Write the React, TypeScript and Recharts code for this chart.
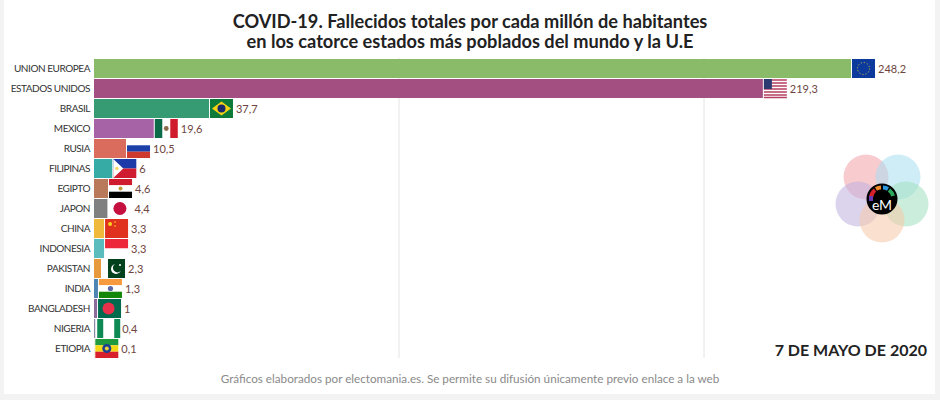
import { BarChart, Bar, XAxis, YAxis, CartesianGrid, Cell, LabelList } from 'recharts';

const countries = ['UNION EUROPEA', 'ESTADOS UNIDOS', 'BRASIL', 'MEXICO', 'RUSIA', 'FILIPINAS', 'EGIPTO', 'JAPON', 'CHINA', 'INDONESIA', 'PAKISTAN', 'INDIA', 'BANGLADESH', 'NIGERIA', 'ETIOPIA'];
const values = [248.2, 219.3, 37.7, 19.6, 10.5, 6, 4.6, 4.4, 3.3, 3.3, 2.3, 1.3, 1, 0.4, 0.1];
const barColors = ['#8abb68', '#a34f82', '#369a72', '#a663a5', '#d96c5d', '#36aaa5', '#b87a5b', '#808080', '#efb93c', '#5bbcbd', '#e79a3d', '#4f85b3', '#8b6b9b', '#8a8aa8', '#d9c9a0'];
const gridTicks = [100, 200];

const FONT = 'Lato, "Noto Sans", sans-serif';
const chartData = countries.map((name, i) => ({ name, value: values[i] }));

// every flag is drawn in a 23x19 box
const flags: Record<string, JSX.Element> = {
  'UNION EUROPEA': (
    <g>
      <rect width={23} height={19} fill="#0b3a9c" />
      <circle cx={11.5} cy={9.5} r={6} fill="none" stroke="#e8c83a" strokeWidth={1} strokeDasharray="1 2.1" />
    </g>
  ),
  'ESTADOS UNIDOS': (
    <g>
      <rect width={23} height={19} fill="#fff" />
      <path d="M0 1h23M0 4h23M0 7h23M0 10h23M0 13h23M0 16h23M0 18.5h23" stroke="#b5405f" strokeWidth={1.4} />
      <rect width={8} height={10} fill="#2b3a70" />
    </g>
  ),
  BRASIL: (
    <g>
      <rect width={23} height={19} fill="#0d7a3a" />
      <path d="M11.5 2.5L21 9.5L11.5 16.5L2 9.5Z" fill="#f5d314" />
      <circle cx={11.5} cy={9.5} r={4} fill="#1b2a6b" />
    </g>
  ),
  MEXICO: (
    <g>
      <rect width={23} height={19} fill="#fff" />
      <rect width={7.5} height={19} fill="#0b6b48" />
      <rect x={15.5} width={7.5} height={19} fill="#cf1b2b" />
      <circle cx={11.5} cy={9.5} r={2.4} fill="#8a6a4a" />
    </g>
  ),
  RUSIA: (
    <g>
      <rect width={23} height={6.3} fill="#fff" />
      <rect y={6.3} width={23} height={6.4} fill="#1c3fa8" />
      <rect y={12.7} width={23} height={6.3} fill="#cf3a2e" />
    </g>
  ),
  FILIPINAS: (
    <g>
      <rect width={23} height={9.5} fill="#1c3aa8" />
      <rect y={9.5} width={23} height={9.5} fill="#d01c30" />
      <path d="M0 0L10 9.5L0 19Z" fill="#fff" />
      <circle cx={3.5} cy={9.5} r={1.8} fill="#f5d96b" />
    </g>
  ),
  EGIPTO: (
    <g>
      <rect width={23} height={6.3} fill="#ce1b2e" />
      <rect y={6.3} width={23} height={6.4} fill="#fff" />
      <rect y={12.7} width={23} height={6.3} fill="#000" />
      <circle cx={11.5} cy={9.5} r={2} fill="#c09a3a" />
    </g>
  ),
  JAPON: (
    <g>
      <rect width={23} height={19} fill="#fff" />
      <circle cx={11.5} cy={9.5} r={6.5} fill="#c40f3f" />
    </g>
  ),
  CHINA: (
    <g>
      <rect width={23} height={19} fill="#e0301e" />
      <circle cx={5} cy={5} r={2} fill="#f7d51d" />
      <circle cx={10} cy={3} r={0.8} fill="#f7d51d" />
      <circle cx={10} cy={7} r={0.8} fill="#f7d51d" />
    </g>
  ),
  INDONESIA: (
    <g>
      <rect width={23} height={9.5} fill="#ed2939" />
      <rect y={9.5} width={23} height={9.5} fill="#fff" />
    </g>
  ),
  PAKISTAN: (
    <g>
      <rect width={23} height={19} fill="#fff" />
      <rect x={6} width={17} height={19} fill="#01411c" />
      <circle cx={14} cy={10} r={5} fill="#fff" />
      <circle cx={15.5} cy={8.8} r={4.6} fill="#01411c" />
      <circle cx={18} cy={6} r={1} fill="#fff" />
    </g>
  ),
  INDIA: (
    <g>
      <rect width={23} height={6.3} fill="#f79a3e" />
      <rect y={6.3} width={23} height={6.4} fill="#fff" />
      <rect y={12.7} width={23} height={6.3} fill="#138808" />
      <circle cx={11.5} cy={9.5} r={2.6} fill="#5a6aa8" />
    </g>
  ),
  BANGLADESH: (
    <g>
      <rect width={23} height={19} fill="#006a4e" />
      <circle cx={10.5} cy={9.5} r={6} fill="#e8304a" />
    </g>
  ),
  NIGERIA: (
    <g>
      <rect width={23} height={19} fill="#fff" />
      <rect x={1} width={6} height={19} fill="#108a55" />
      <rect x={18} width={6} height={19} fill="#108a55" />
    </g>
  ),
  ETIOPIA: (
    <g>
      <rect width={23} height={6.3} fill="#1f9a3c" />
      <rect y={6.3} width={23} height={6.4} fill="#f5d814" />
      <rect y={12.7} width={23} height={6.3} fill="#d8202c" />
      <circle cx={11.5} cy={9.5} r={4.5} fill="#1c3f94" />
      <circle cx={11.5} cy={9.5} r={2} fill="#e8d040" />
    </g>
  ),
};

function CountryTick(props: any) {
  const { x, y, payload } = props;
  return (
    <text x={x} y={y + 3.5} textAnchor="end" fontSize={10} letterSpacing={-0.45} fontFamily={FONT} fill="#333">
      {payload.value}
    </text>
  );
}

function BarEnd(props: any) {
  const { x, y, width, height, index } = props;
  const name = countries[index];
  const left = x + width + 1;
  return (
    <g>
      <g transform={`translate(${left},${y + (height - 19) / 2})`}>{flags[name]}</g>
      <text x={left + 26} y={y + height / 2 + 4} fontSize={11} fontFamily={FONT} fill="#6e4540">
        {String(values[index]).replace('.', ',')}
      </text>
    </g>
  );
}

function Logo() {
  return (
    <svg width={940} height={400} style={{ position: 'absolute', left: 0, top: 0, pointerEvents: 'none' }}>
      <circle cx={866} cy={177} r={22.5} fill="#f2a0a8" opacity={0.55} />
      <circle cx={898} cy={177} r={22.5} fill="#a8dff0" opacity={0.55} />
      <circle cx={858} cy={204} r={22.5} fill="#c0b0de" opacity={0.55} />
      <circle cx={906} cy={204} r={22.5} fill="#a0e0c0" opacity={0.55} />
      <circle cx={882} cy={220} r={22.5} fill="#f5c8a8" opacity={0.55} />
      <circle cx={882} cy={199} r={15.5} fill="#000" />
      <path d="M871 198A11 11 0 0 1 875 190" stroke="#d8202c" strokeWidth={4} fill="none" />
      <path d="M876 189A11 11 0 0 1 881 187.500" stroke="#f08a2c" strokeWidth={4} fill="none" />
      <path d="M883 187.500A11 11 0 0 1 888 189" stroke="#2c9ae0" strokeWidth={4} fill="none" />
      <path d="M889 190A11 11 0 0 1 893 196" stroke="#2ca85c" strokeWidth={4} fill="none" />
      <rect x={869} y={196} width={4} height={5} fill="#6a3ab0" />
      <text x={882} y={209.500} textAnchor="middle" fontSize={14} fontFamily={FONT} fill="#fff">eM</text>
    </svg>
  );
}

export default function App() {
  document.body.style.margin = '0';
  return (
    <div style={{ position: 'relative', width: 940, height: 400, background: '#f3f3f3', overflow: 'hidden', fontFamily: FONT }}>
      <div style={{ position: 'absolute', left: 4, top: 0, width: 931, height: 394, background: '#fff' }} />
      <div style={{ position: 'absolute', left: 0, top: 11, width: 940, textAlign: 'center', fontWeight: 700, fontSize: 18.2, lineHeight: '20px', color: '#222' }}>
        COVID-19. Fallecidos totales por cada millón de habitantes
        <br />
        en los catorce estados más poblados del mundo y la U.E
      </div>
      <div style={{ position: 'absolute', left: 0, top: 0 }}>
        <BarChart
          width={940}
          height={400}
          layout="vertical"
          data={chartData}
          margin={{ top: 58, right: 83.5, bottom: 42, left: 0 }}
          barCategoryGap={0}
        >
          <CartesianGrid horizontal={false} stroke="#e4e4e4" syncWithTicks />
          <XAxis type="number" hide domain={[0, 250]} ticks={gridTicks} />
          <YAxis
            type="category"
            dataKey="name"
            width={94}
            interval={0}
            axisLine={false}
            tickLine={false}
            tickSize={0}
            tickMargin={4}
            tick={CountryTick}
          />
          <Bar dataKey="value" barSize={19} isAnimationActive={false}>
            {chartData.map((d, i) => (
              <Cell key={d.name} fill={barColors[i]} />
            ))}
            <LabelList dataKey="value" content={BarEnd} />
          </Bar>
        </BarChart>
      </div>
      <Logo />
      <div style={{ position: 'absolute', right: 13, top: 340, fontWeight: 700, fontSize: 16, color: '#222', lineHeight: '20px' }}>
        7 DE MAYO DE 2020
      </div>
      <div style={{ position: 'absolute', left: 0, top: 370, width: 940, textAlign: 'center', fontSize: 11.7, color: '#8a8a8a', lineHeight: '16px' }}>
        Gráficos elaborados por electomania.es. Se permite su difusión únicamente previo enlace a la web
      </div>
    </div>
  );
}
